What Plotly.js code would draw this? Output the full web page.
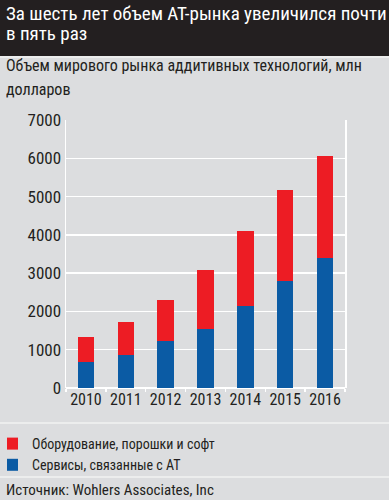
<!DOCTYPE html>
<html><head><meta charset="utf-8">
<script src="https://cdn.plot.ly/plotly-3.0.1.min.js"></script>
<style>html,body{margin:0;padding:0;background:#dcdddf;}#c{width:389px;height:500px;}</style>
</head><body><div id="c"></div>
<script>
var years = ['2010','2011','2012','2013','2014','2015','2016'];
var services = [680, 860, 1220, 1530, 2130, 2800, 3400];
var equipment = [660, 860, 1070, 1540, 1970, 2360, 2650];
var yTicks = [0,1000,2000,3000,4000,5000,6000,7000];
var nameServices = 'Сервисы, связанные с АТ';
var nameEquipment = 'Оборудование, порошки и софт';
var titleLines = ['За шесть лет объем АТ-рынка увеличился почти','в пять раз'];
var subLines = ['Объем мирового рынка аддитивных технологий, млн','долларов'];
var sourceText = 'Источник: Wohlers Associates, Inc';

var FONT = '"Roboto Condensed", "DejaVu Sans Condensed", sans-serif';
var INK = '#231f20';

var traces = [
  {type:'bar', x:years, y:services, name:nameServices, marker:{color:'#0b5ba4'}, width:0.41, legendrank:2},
  {type:'bar', x:years, y:equipment, name:nameEquipment, marker:{color:'#ed1c24'}, width:0.41, legendrank:1}
];

function pxY(py){ return (388-py)/268; }
function pxX(px){ return (px-66)/279; }
function note(text, px, pyBottom, size, color){
  return {text:text, xref:'paper', yref:'paper', x:pxX(px), y:pxY(pyBottom), xanchor:'left', yanchor:'bottom',
          width:382, align:'left', borderpad:0, showarrow:false, font:{size:size, color:color}};
}

var layout = {
  width:389, height:500,
  paper_bgcolor:'#dcdddf', plot_bgcolor:'#dcdddf',
  margin:{l:66, r:44, t:120, b:112, autoexpand:false},
  barmode:'stack',
  font:{family:FONT, color:INK, size:16},
  showlegend:true,
  legend:{x:pxX(7), xanchor:'left', y:pxY(428), yanchor:'top', traceorder:'normal', indentation:-15,
          font:{size:14, color:INK}, bgcolor:'rgba(0,0,0,0)'},
  xaxis:{type:'category', range:[-0.5,6.5], showgrid:false, tickson:'boundaries', ticks:'outside', tickangle:0,
         ticklen:3, tickcolor:'#ffffff', tickwidth:1.5, tickfont:{size:16}, showline:false, fixedrange:true},
  yaxis:{range:[0,7000], tickvals:yTicks, ticktext:yTicks.map(String), gridcolor:'#ffffff', gridwidth:1.5,
         showline:true, linecolor:'#ffffff', linewidth:1.5, mirror:true, zeroline:true, zerolinecolor:'#ffffff',
         zerolinewidth:1.5, tickfont:{size:17}, ticks:'', fixedrange:true},
  shapes:[
    {type:'rect', xref:'paper', yref:'paper', x0:-1, x1:2, y0:pxY(56), y1:pxY(-5), fillcolor:INK, line:{width:0}, layer:'below'},
    {type:'line', xref:'paper', yref:'paper', x0:-1, x1:2, y0:pxY(57), y1:pxY(57), line:{color:'#f2f2f2', width:1.5}},
    {type:'line', xref:'paper', yref:'paper', x0:-1, x1:2, y0:pxY(423), y1:pxY(423), line:{color:'#f2f2f2', width:1.5}},
    {type:'line', xref:'paper', yref:'paper', x0:-1, x1:2, y0:pxY(477), y1:pxY(477), line:{color:'#f2f2f2', width:1.5}}
  ],
  annotations:[
    note(titleLines[0], 5, 26, 19, '#ffffff'),
    note(titleLines[1], 5, 46, 19, '#ffffff'),
    note(subLines[0], 5, 76, 16, INK),
    note(subLines[1], 5, 100, 16, INK),
    note(sourceText, 5, 500, 15, INK)
  ]
};
Plotly.newPlot('c', traces, layout, {displayModeBar:false, staticPlot:true});
</script></body></html>
